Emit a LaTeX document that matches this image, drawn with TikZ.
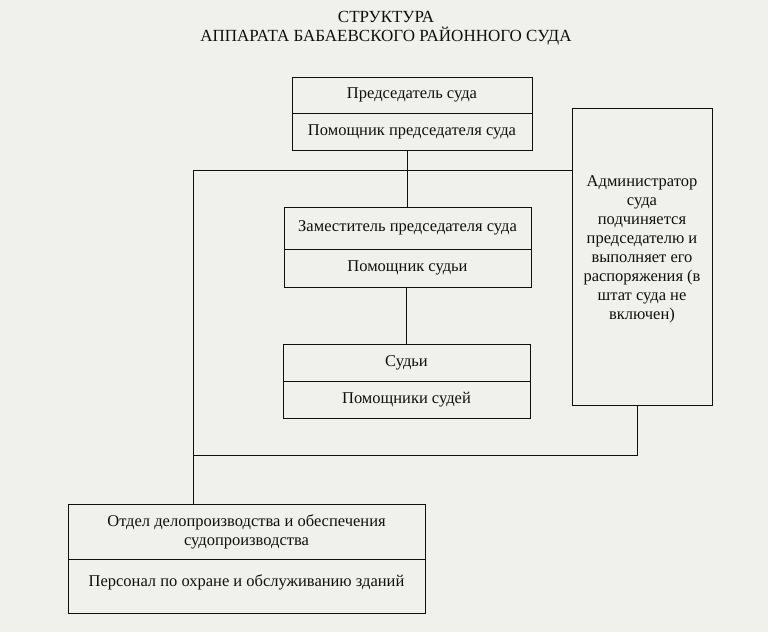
\documentclass[tikz,border=0pt]{standalone}
\usepackage{fontspec}
\setmainfont{Liberation Serif}
\usepackage{tikz}
\usetikzlibrary{calc}
\definecolor{paper}{RGB}{240,240,237}
\definecolor{ink}{RGB}{15,15,15}

\begin{document}
\begin{tikzpicture}[x=1pt,y=-1pt,
    every node/.style={font=\fontsize{16.5}{19}\selectfont,text=ink},
    part/.style={draw=ink,line width=1pt,inner sep=0pt,align=center},
    link/.style={draw=ink,line width=1pt}]
            % The paper
            \fill[paper] (0,0) rectangle (768,632);
            \useasboundingbox (0,0) rectangle (768,632);

            % Title
            \node[align=center,font=\fontsize{17}{19.5}\selectfont] (title) at (386,28) {СТРУКТУРА\\АППАРАТА БАБАЕВСКОГО РАЙОННОГО СУДА};

            % Place the chain of boxes
            \node[part,minimum width=240,minimum height=36] (chair) at (412,95) {Председатель суда};
            \node[part,minimum width=240,minimum height=37] (chairhelp) at (412,131.5) {Помощник председателя суда};
            \node[part,minimum width=247,minimum height=42] (deputy) at (407.5,228) {Заместитель председателя суда};
            \node[part,minimum width=247,minimum height=38] (judgehelp) at (407.5,268) {Помощник судьи};
            \node[part,minimum width=247,minimum height=37] (judges) at (406.5,362.5) {Судьи};
            \node[part,minimum width=247,minimum height=37] (judgeshelp) at (406.5,399.5) {Помощники судей};

            % Place the other boxes
            \node[part,minimum width=140,minimum height=297] (admin) at (642,256.5) {};
            \node[align=center] (admintext) at (642,249) {Администратор\\суда\\подчиняется\\председателю и\\выполняет его\\распоряжения (в\\штат суда не\\включен)};
            \node[part,minimum width=357,minimum height=55] (office) at (246.5,531.5) {Отдел делопроизводства и обеспечения\\судопроизводства};
            \node[part,minimum width=357,minimum height=54,text depth=10pt] (staff) at (246.5,586) {Персонал по охране и обслуживанию зданий};

            % Corners of the lines
            \coordinate (tl) at (193,170);
            \coordinate (bl) at (193,455);
            \coordinate (br) at (637,455);

            % The lines!
            \draw[link] (deputy.north |- chairhelp.south) -- (deputy.north);
            \draw[link] (judges.north |- judgehelp.south) -- (judges.north);
            \draw[link] (tl) -- (tl -| admin.west);
            \draw[link] (tl) -- (tl |- office.north);
            \draw[link] (bl) -- (br) -- (br |- admin.south);
        \end{tikzpicture}
\end{document}
